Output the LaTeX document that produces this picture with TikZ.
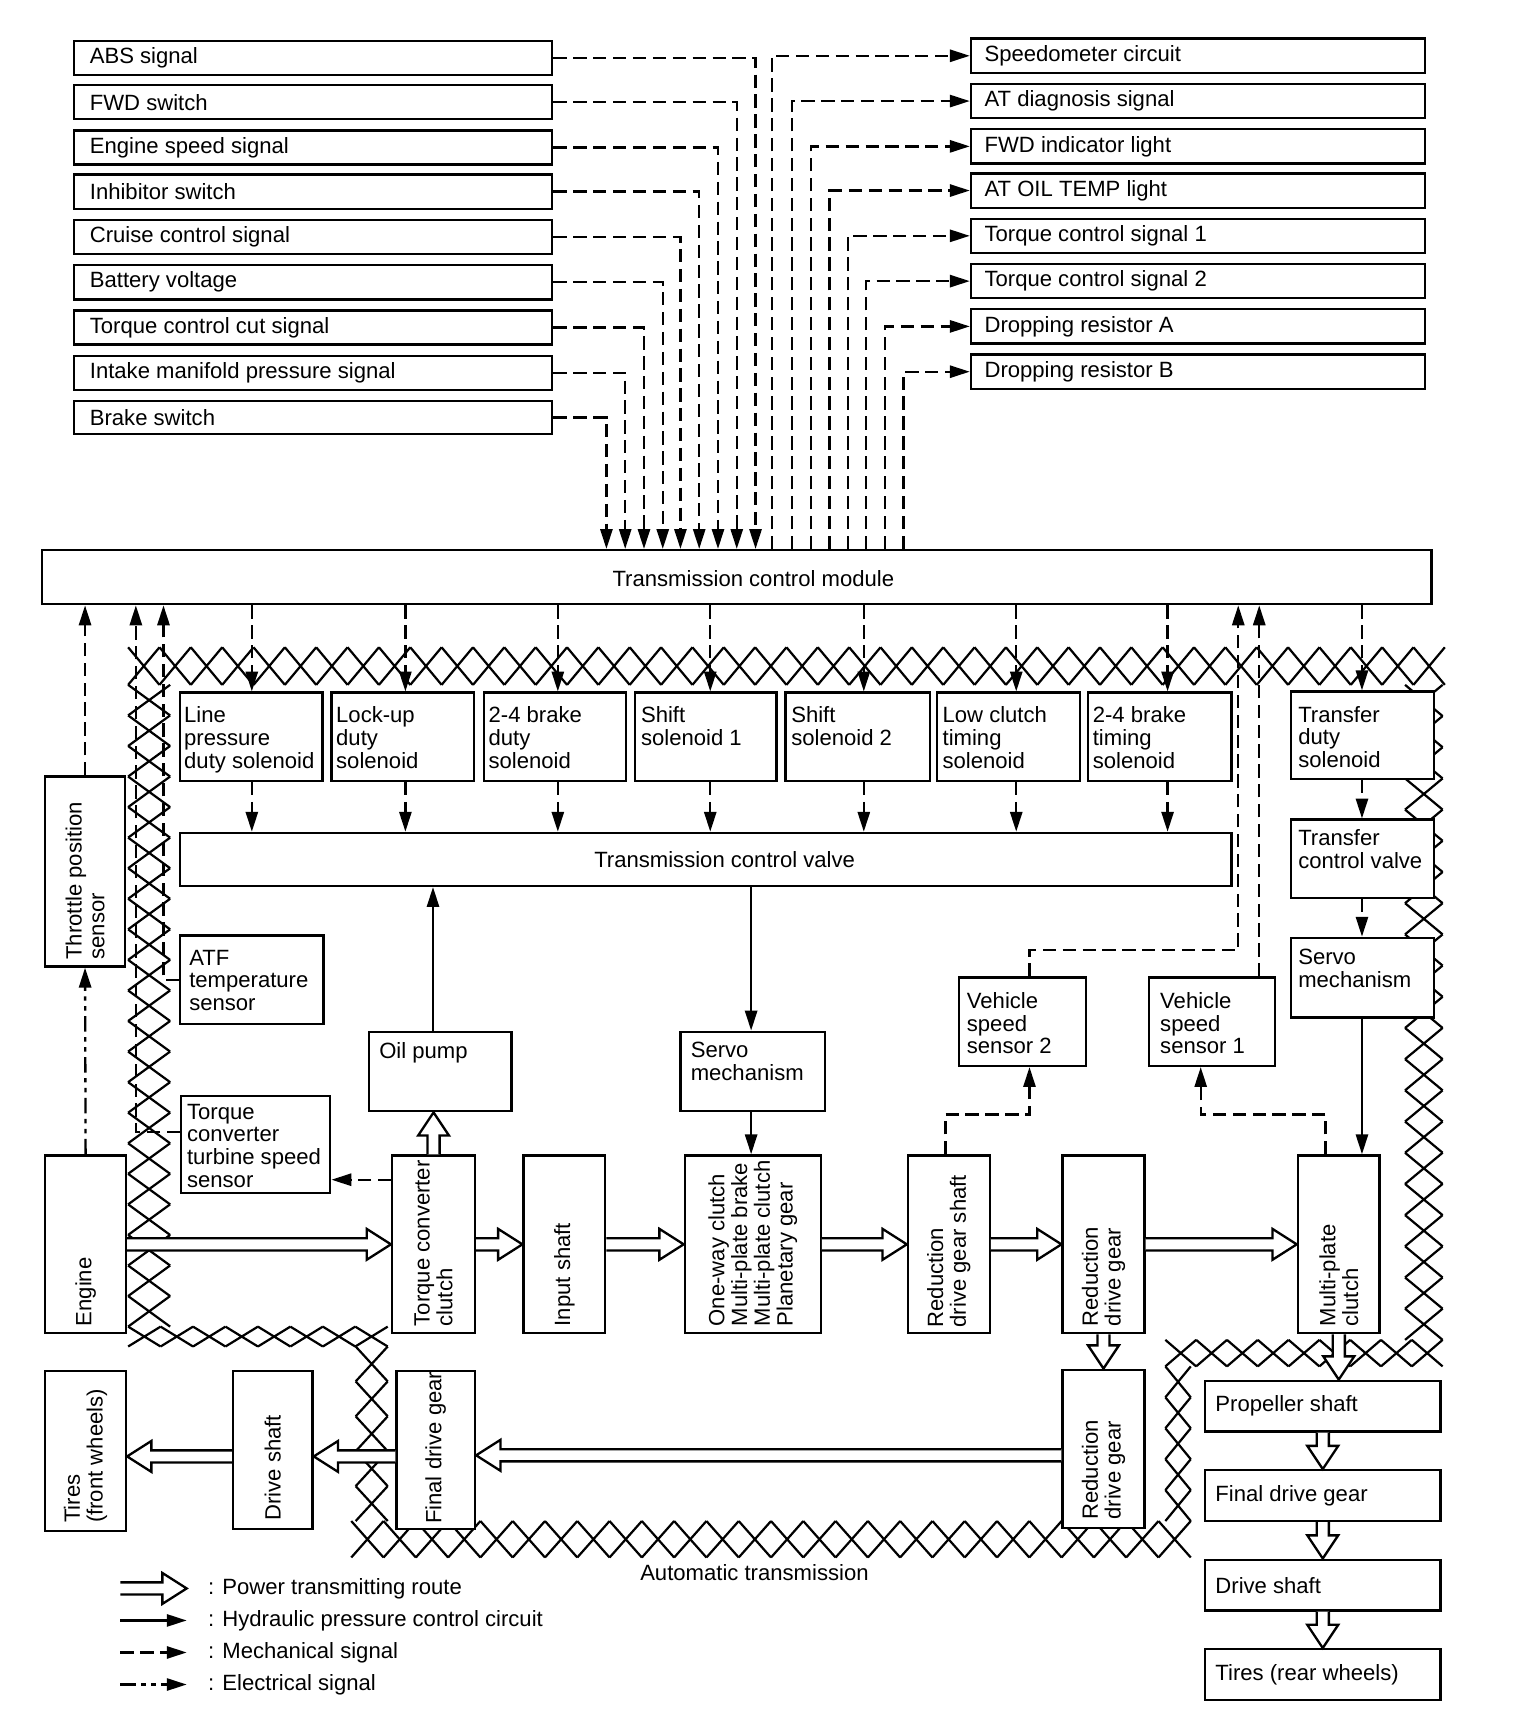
\documentclass[tikz,border=0pt]{standalone}
\usepackage{fontspec}
\setmainfont{Liberation Sans}
\usetikzlibrary{arrows.meta,fit,calc}
\tikzset{
 bx/.style={draw, line width=1.05pt, fill=white, inner sep=0pt},
 tx/.style={inner sep=0pt, align=left, font=\fontsize{10}{10.3}\selectfont},
 tip/.style={-{Triangle[length=9pt,width=5.5pt]}},
 sig/.style={line width=1.05pt, dash pattern=on 6pt off 3pt, tip},
 hyd/.style={line width=1.05pt, tip},
 ele/.style={line width=1.05pt, dash pattern=on 7pt off 2.5pt on 2pt off 2.5pt on 2pt off 2.5pt, tip},
 hatch/.style={line width=1pt},
 pw/.style={line width=1.05pt, fill=white, line join=miter},
}
\newcommand\bx[5]{\node[bx, fit={(#2,#3) (#4,#5)}] (#1) {};}
\newcommand\hzband[5]{%
  \pgfmathsetmacro\hbw{(#2-#1)/#5}%
  \foreach \i in {1,...,#5}{\draw[hatch] ({#1+(\i-1)*\hbw},#3) -- ({#1+\i*\hbw},#4) ({#1+(\i-1)*\hbw},#4) -- ({#1+\i*\hbw},#3);}}
\newcommand\vtband[5]{%
  \pgfmathsetmacro\vbh{(#2-#1)/#5}%
  \foreach \i in {1,...,#5}{\draw[hatch] (#3,{#1+(\i-1)*\vbh}) -- (#4,{#1+\i*\vbh}) (#4,{#1+(\i-1)*\vbh}) -- (#3,{#1+\i*\vbh});}}
\newcommand\pwrR[2]{\draw[pw] let \p1=(#1), \p2=(#2) in (\x1,\y1+2.75pt) -- (\x2-11pt,\y1+2.75pt) -- (\x2-11pt,\y1+7pt) -- (\x2,\y1) -- (\x2-11pt,\y1-7pt) -- (\x2-11pt,\y1-2.75pt) -- (\x1,\y1-2.75pt);}
\newcommand\pwrL[2]{\draw[pw] let \p1=(#1), \p2=(#2) in (\x1,\y1+2.75pt) -- (\x2+11pt,\y1+2.75pt) -- (\x2+11pt,\y1+7pt) -- (\x2,\y1) -- (\x2+11pt,\y1-7pt) -- (\x2+11pt,\y1-2.75pt) -- (\x1,\y1-2.75pt);}
\newcommand\pwrD[2]{\draw[pw] let \p1=(#1), \p2=(#2) in (\x1-2.75pt,\y1) -- (\x1-2.75pt,\y2+10.5pt) -- (\x1-7pt,\y2+10.5pt) -- (\x1,\y2) -- (\x1+7pt,\y2+10.5pt) -- (\x1+2.75pt,\y2+10.5pt) -- (\x1+2.75pt,\y1);}
\newcommand\pwrU[2]{\draw[pw] let \p1=(#1), \p2=(#2) in (\x1-2.75pt,\y1) -- (\x1-2.75pt,\y2-10.5pt) -- (\x1-7pt,\y2-10.5pt) -- (\x1,\y2) -- (\x1+7pt,\y2-10.5pt) -- (\x1+2.75pt,\y2-10.5pt) -- (\x1+2.75pt,\y1);}
\begin{document}
\begin{tikzpicture}[x=0.5pt,y=-0.5pt]
\fill[white] (0,0) rectangle (1376,1568);
\useasboundingbox (0,0) rectangle (1376,1568);
% ---------- housing hatch ----------
\hzband{116}{1308}{586}{620}{42}
\vtband{620}{1201}{116}{154}{21}
\hzband{116}{351}{1201}{1219}{8}
\vtband{1219}{1377}{322}{351}{5}
\hzband{318}{1078}{1377}{1410}{26}
\vtband{1237}{1377}{1055}{1078}{5}
\hzband{1055}{1306}{1213}{1237}{9}
\vtband{620}{1213}{1272}{1306}{21}
% ---------- input boxes ----------
\bx{i1}{67}{37}{500}{68}   \node[tx,anchor=west] (i1t) at ([xshift=7.5pt]i1.west) {ABS signal};
\bx{i2}{67}{77}{500}{108}  \node[tx,anchor=west] (i2t) at ([xshift=7.5pt]i2.west) {FWD switch};
\bx{i3}{67}{118}{500}{149} \node[tx,anchor=west] (i3t) at ([xshift=7.5pt]i3.west) {Engine speed signal};
\bx{i4}{67}{158}{500}{189} \node[tx,anchor=west] (i4t) at ([xshift=7.5pt]i4.west) {Inhibitor switch};
\bx{i5}{67}{199}{500}{230} \node[tx,anchor=west] (i5t) at ([xshift=7.5pt]i5.west) {Cruise control signal};
\bx{i6}{67}{240}{500}{271} \node[tx,anchor=west] (i6t) at ([xshift=7.5pt]i6.west) {Battery voltage};
\bx{i7}{67}{281}{500}{312} \node[tx,anchor=west] (i7t) at ([xshift=7.5pt]i7.west) {Torque control cut signal};
\bx{i8}{67}{322}{500}{353} \node[tx,anchor=west] (i8t) at ([xshift=7.5pt]i8.west) {Intake manifold pressure signal};
\bx{i9}{67}{363}{500}{393} \node[tx,anchor=west] (i9t) at ([xshift=7.5pt]i9.west) {Brake switch};
% ---------- output boxes ----------
\bx{o1}{879}{35}{1290}{66}   \node[tx,anchor=west] (o1t) at ([xshift=6.5pt]o1.west) {Speedometer circuit};
\bx{o2}{879}{76}{1290}{107}  \node[tx,anchor=west] (o2t) at ([xshift=6.5pt]o2.west) {AT diagnosis signal};
\bx{o3}{879}{117}{1290}{148} \node[tx,anchor=west] (o3t) at ([xshift=6.5pt]o3.west) {FWD indicator light};
\bx{o4}{879}{157}{1290}{188} \node[tx,anchor=west] (o4t) at ([xshift=6.5pt]o4.west) {AT OIL TEMP light};
\bx{o5}{879}{198}{1290}{229} \node[tx,anchor=west] (o5t) at ([xshift=6.5pt]o5.west) {Torque control signal 1};
\bx{o6}{879}{239}{1290}{270} \node[tx,anchor=west] (o6t) at ([xshift=6.5pt]o6.west) {Torque control signal 2};
\bx{o7}{879}{280}{1290}{311} \node[tx,anchor=west] (o7t) at ([xshift=6.5pt]o7.west) {Dropping resistor A};
\bx{o8}{879}{321}{1290}{352} \node[tx,anchor=west] (o8t) at ([xshift=6.5pt]o8.west) {Dropping resistor B};
% ---------- TCM ----------
\bx{tcm}{38}{498}{1296}{547}
\node[tx] (tcmt) at (682,524) {Transmission control module};
% ---------- solenoids ----------
\bx{s1}{163}{627}{292}{707}  \node[tx,anchor=north west] (s1t) at ([shift={(2.2pt,-6.8pt)}]s1.north west) {Line\\pressure\\duty solenoid};
\bx{s2}{300}{627}{429}{707}  \node[tx,anchor=north west] (s2t) at ([shift={(2.5pt,-6.8pt)}]s2.north west) {Lock-up\\duty\\solenoid};
\bx{s3}{438}{627}{567}{707}  \node[tx,anchor=north west] (s3t) at ([shift={(2.5pt,-6.8pt)}]s3.north west) {2-4 brake\\duty\\solenoid};
\bx{s4}{575}{627}{703}{707}  \node[tx,anchor=north west] (s4t) at ([shift={(3pt,-6.8pt)}]s4.north west) {Shift\\solenoid 1};
\bx{s5}{711}{627}{842}{707}  \node[tx,anchor=north west] (s5t) at ([shift={(3pt,-6.8pt)}]s5.north west) {Shift\\solenoid 2};
\bx{s6}{848}{627}{978}{707}  \node[tx,anchor=north west] (s6t) at ([shift={(3pt,-6.8pt)}]s6.north west) {Low clutch\\timing\\solenoid};
\bx{s7}{985}{627}{1115}{707} \node[tx,anchor=north west] (s7t) at ([shift={(2.5pt,-6.8pt)}]s7.north west) {2-4 brake\\timing\\solenoid};
\bx{st}{1169}{626}{1298}{705} \node[tx,anchor=north west] (stt) at ([shift={(3.5pt,-7pt)}]st.north west) {Transfer\\duty\\solenoid};
\bx{tcv}{163}{754}{1115}{802} \node[tx] (tcvt) at (656,778) {Transmission control valve};
\bx{tcv2}{1169}{742}{1298}{813} \node[tx,anchor=north west] (tcv2t) at ([shift={(3.5pt,-5pt)}]tcv2.north west) {Transfer\\control valve};
\bx{srv2}{1169}{849}{1298}{921} \node[tx,anchor=north west] (srv2t) at ([shift={(3.5pt,-5.5pt)}]srv2.north west) {Servo\\mechanism};
% ---------- sensors and middle ----------
\bx{tps}{41}{703}{113}{875}
\node[tx,rotate=90,anchor=west] (tpst) at ([yshift=3.5pt]tps.south) {Throttle position\\sensor};
\bx{atf}{163}{847}{293}{927}  \node[tx,anchor=north west] (atft) at ([shift={(4.5pt,-6.8pt)}]atf.north west) {ATF\\temperature\\sensor};
\bx{oil}{334}{934}{463}{1006} \node[tx,anchor=north west] (oilt) at ([shift={(5pt,-5pt)}]oil.north west) {Oil pump};
\bx{srv}{616}{934}{747}{1006} \node[tx,anchor=north west] (srvt) at ([shift={(5pt,-5pt)}]srv.north west) {Servo\\mechanism};
\bx{vss2}{868}{885}{983}{965} \node[tx,anchor=north west] (vss2t) at ([shift={(4pt,-7pt)}]vss2.north west) {Vehicle\\speed\\sensor 2};
\bx{vss1}{1040}{885}{1154}{965} \node[tx,anchor=north west] (vss1t) at ([shift={(5.5pt,-7pt)}]vss1.north west) {Vehicle\\speed\\sensor 1};
\bx{tct}{164}{992}{299}{1080} \node[tx,anchor=north west] (tctt) at ([shift={(3pt,-4pt)}]tct.north west) {Torque\\converter\\turbine speed\\sensor};
% ---------- power row ----------
\bx{eng}{41}{1046}{114}{1207}  \node[tx,rotate=90,anchor=west] (engt) at ([yshift=3.5pt]eng.south) {Engine};
\bx{tcc}{355}{1046}{430}{1207} \node[tx,rotate=90,anchor=west] (tcct) at ([yshift=3.5pt]tcc.south) {Torque converter\\clutch};
\bx{ins}{474}{1046}{548}{1207} \node[tx,rotate=90,anchor=west] (inst) at ([yshift=3.5pt]ins.south) {Input shaft};
\bx{owc}{620}{1046}{743}{1207} \node[tx,rotate=90,anchor=west] (owct) at ([yshift=3.5pt]owc.south) {One-way clutch\\Multi-plate brake\\Multi-plate clutch\\Planetary gear};
\bx{rds}{822}{1046}{896}{1207} \node[tx,rotate=90,anchor=west] (rdst) at ([yshift=3pt]rds.south) {Reduction\\drive gear shaft};
\bx{rdg1}{962}{1046}{1036}{1207} \node[tx,rotate=90,anchor=west] (rdg1t) at ([yshift=3.5pt]rdg1.south) {Reduction\\drive gear};
\bx{mpc}{1175}{1046}{1249}{1207} \node[tx,rotate=90,anchor=west] (mpct) at ([yshift=3.5pt]mpc.south) {Multi-plate\\clutch};
\bx{rdg2}{962}{1240}{1036}{1383} \node[tx,rotate=90,anchor=west] (rdg2t) at ([yshift=4pt]rdg2.south) {Reduction\\drive gear};
\bx{fdg}{359}{1241}{430}{1384} \node[tx,rotate=90,anchor=west] (fdgt) at ([yshift=2.5pt]fdg.south) {Final drive gear};
\bx{ds}{211}{1241}{283}{1384} \node[tx,rotate=90,anchor=west] (dst) at ([yshift=4pt]ds.south) {Drive shaft};
\bx{tf}{41}{1241}{114}{1386} \node[tx,rotate=90,anchor=west] (tft) at ([yshift=4pt]tf.south) {Tires\\(front wheels)};
% ---------- rear ----------
\bx{prop}{1091}{1250}{1304}{1296} \node[tx,anchor=west] (propt) at ([xshift=5pt]prop.west) {Propeller shaft};
\bx{fdr}{1091}{1331}{1304}{1377} \node[tx,anchor=west] (fdrt) at ([xshift=5pt]fdr.west) {Final drive gear};
\bx{dsr}{1091}{1412}{1304}{1458} \node[tx,anchor=west] (dsrt) at ([xshift=5pt]dsr.west) {Drive shaft};
\bx{tr}{1091}{1493}{1304}{1539} \node[tx,anchor=west] (trt) at ([xshift=5pt]tr.west) {Tires (rear wheels)};
\node[tx] (att) at (683,1424) {Automatic transmission};
% ---------- coordinates ----------
\coordinate (v1) at (684,0); \coordinate (v2) at (667,0); \coordinate (v3) at (650,0);
\coordinate (v4) at (633,0); \coordinate (v5) at (616,0); \coordinate (v6) at (600,0);
\coordinate (v7) at (583,0); \coordinate (v8) at (566,0); \coordinate (v9) at (549,0);
\coordinate (w1) at (699,0); \coordinate (w2) at (717,0); \coordinate (w3) at (734,0);
\coordinate (w4) at (751,0); \coordinate (w5) at (768,0); \coordinate (w6) at (784,0);
\coordinate (w7) at (801,0); \coordinate (w8) at (818,0);
% inputs
\foreach \k in {1,...,9}{\draw[sig] (i\k.east) -| (v\k |- tcm.north);}
% outputs
\foreach \k in {1,...,8}{\draw[sig] (w\k |- tcm.north) |- (o\k.west);}
% solenoids
\coordinate (c1) at (228,0); \coordinate (c2) at (367,0); \coordinate (c3) at (505,0);
\coordinate (c4) at (643,0); \coordinate (c5) at (782,0); \coordinate (c6) at (920,0);
\coordinate (c7) at (1057,0); \coordinate (ct) at (1233,0);
\foreach \k in {1,...,7}{
  \draw[sig] (c\k |- tcm.south) -- (c\k |- s\k.north);
  \draw[sig] (c\k |- s\k.south) -- (c\k |- tcv.north);}
\draw[sig] (ct |- tcm.south) -- (ct |- st.north);
\draw[sig] (ct |- st.south) -- (ct |- tcv2.north);
\draw[sig] (ct |- tcv2.south) -- (ct |- srv2.north);
\draw[hyd] (ct |- srv2.south) -- (ct |- mpc.north);
% hydraulic
\coordinate (h1) at (392,0); \coordinate (h2) at (680,0);
\draw[hyd] (h1 |- oil.north) -- (h1 |- tcv.south);
\draw[hyd] (h2 |- tcv.south) -- (h2 |- srv.north);
\draw[hyd] (h2 |- srv.south) -- (h2 |- owc.north);
% sensors to TCM
\draw[sig] (tps.north) -- (tps.north |- tcm.south);
\draw[ele] (eng.north) -- (tps.south);
\coordinate (ca) at (148,0); \coordinate (cb) at (123,0);
\draw[sig] (atf.west) -| (ca |- tcm.south);
\draw[sig] ([yshift=5.5pt]tct.west) -| (cb |- tcm.south);
\coordinate (yt) at (0,1068);
\draw[sig] (tcc.west |- yt) -- (tct.east |- yt);
\coordinate (k1) at (932,860); \coordinate (kk) at (1121,0); \coordinate (kv) at (1140,0);
\draw[sig] (k1 |- vss2.north) -- (k1) -| (kk |- tcm.south);
\draw[sig] (kv |- vss1.north) -- (kv |- tcm.south);
\coordinate (k2) at (856,1009); \coordinate (k3) at (1200,1009); \coordinate (k4) at (1087,0);
\draw[sig] (k2 |- rds.north) -- (k2) -| (k1 |- vss2.south);
\draw[sig] (k3 |- mpc.north) -- (k3) -| (k4 |- vss1.south);
% ---------- power arrows ----------
\pwrR{eng.east}{tcc.west}
\pwrR{tcc.east}{ins.west}
\pwrR{ins.east}{owc.west}
\pwrR{owc.east}{rds.west}
\pwrR{rds.east}{rdg1.west}
\pwrR{rdg1.east}{mpc.west}
\pwrU{tcc.north}{oil.south}
\pwrD{rdg1.south}{rdg2.north}
\pwrL{[yshift=-3pt]rdg2.west}{fdg.east}
\pwrL{[yshift=-3pt]fdg.west}{ds.east}
\pwrL{[yshift=-3pt]ds.west}{tf.east}
\pwrD{mpc.south}{prop.north}
\pwrD{prop.south}{fdr.north}
\pwrD{fdr.south}{dsr.north}
\pwrD{dsr.south}{tr.north}
% ---------- legend ----------
\coordinate (l1a) at (109,1438); \coordinate (l1b) at (169,1438);
\coordinate (l2a) at (109,1467); \coordinate (l2b) at (169,1467);
\coordinate (l3a) at (109,1496); \coordinate (l3b) at (169,1496);
\coordinate (l4a) at (109,1525); \coordinate (l4b) at (169,1525);
\pwrR{l1a}{l1b}
\draw[hyd] (l2a) -- (l2b);
\draw[sig] (l3a) -- (l3b);
\draw[ele] (l4a) -- (l4b);
\node[tx,anchor=west] (lg1) at (188,1438) {: Power transmitting route};
\node[tx,anchor=west] (lg2) at (188,1467) {: Hydraulic pressure control circuit};
\node[tx,anchor=west] (lg3) at (188,1496) {: Mechanical signal};
\node[tx,anchor=west] (lg4) at (188,1525) {: Electrical signal};
\end{tikzpicture}
\end{document}
